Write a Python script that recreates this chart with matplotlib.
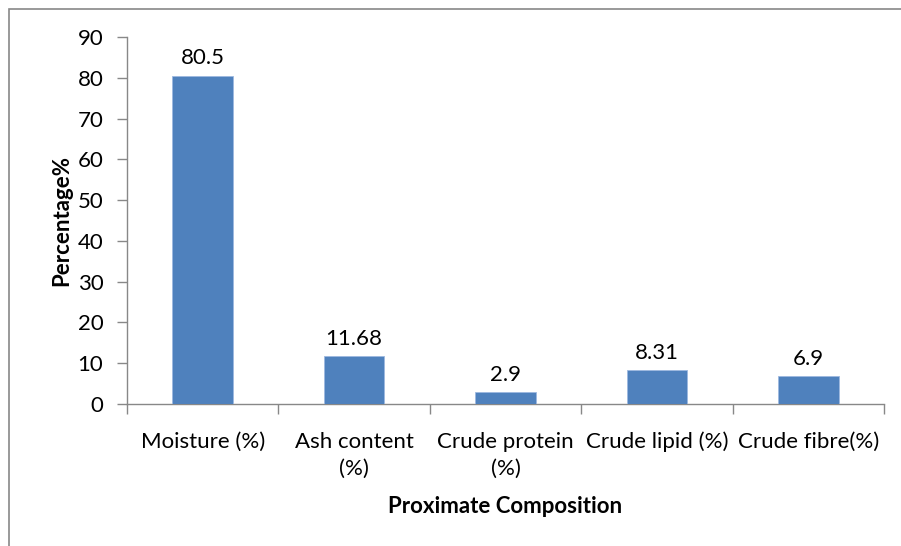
import matplotlib.pyplot as plt
from matplotlib.patches import Rectangle

plt.rcParams.update({
    'font.family': ['Lato', 'DejaVu Sans'],
    'font.size': 16,
})

categories = ['Moisture (%)', 'Ash content\n(%)', 'Crude protein\n(%)',
              'Crude lipid (%)', 'Crude fibre(%)']
values = [80.5, 11.68, 2.9, 8.31, 6.9]
value_labels = ['80.5', '11.68', '2.9', '8.31', '6.9']

W, H = 901, 546
fig = plt.figure(figsize=(W / 100, H / 100), dpi=100)
ax = fig.add_axes([127 / W, 1 - 404 / H, (884 - 127) / W, (404 - 37) / H])

# outer chart border (Excel style)
fig.patches.append(Rectangle((9 / W, -0.01), 1.0, 1 - 9 / H + 0.01,
                             transform=fig.transFigure, fill=False,
                             edgecolor='#888888', lw=1.2))

x = list(range(len(categories)))
bars = ax.bar(x, values, width=0.4, color='#4F81BD', edgecolor='#9DB9E0', lw=0.6,
              zorder=3)
for b, lab in zip(bars, value_labels):
    ax.text(b.get_x() + b.get_width() / 2, b.get_height() + 1.8, lab,
            ha='center', va='bottom', fontsize=16)

ax.set_xlim(-0.5, len(categories) - 0.5)
ax.set_ylim(0, 90)
ax.set_yticks(range(0, 91, 10))
ax.set_xticks([i - 0.5 for i in range(len(categories) + 1)])
ax.set_xticklabels([])
ax.set_xticks(x, minor=True)
ax.set_xticklabels(categories, minor=True, ha='center', va='top',
                   linespacing=1.45, fontsize=16)
ax.tick_params(axis='x', which='minor', length=0, pad=20)
ax.tick_params(axis='x', which='major', length=7, color='#888888', width=1)
ax.tick_params(axis='y', length=7, color='#888888', width=1, pad=10,
               labelsize=16)

for s in ['top', 'right']:
    ax.spines[s].set_visible(False)
for s in ['left', 'bottom']:
    ax.spines[s].set_color('#888888')
    ax.spines[s].set_linewidth(1)

ax.set_ylabel('Percentage%', fontweight='bold', fontsize=16, labelpad=4)
ax.set_xlabel('Proximate Composition', fontweight='bold', fontsize=16,
              labelpad=12)

fig.savefig('out.png', dpi=100)
